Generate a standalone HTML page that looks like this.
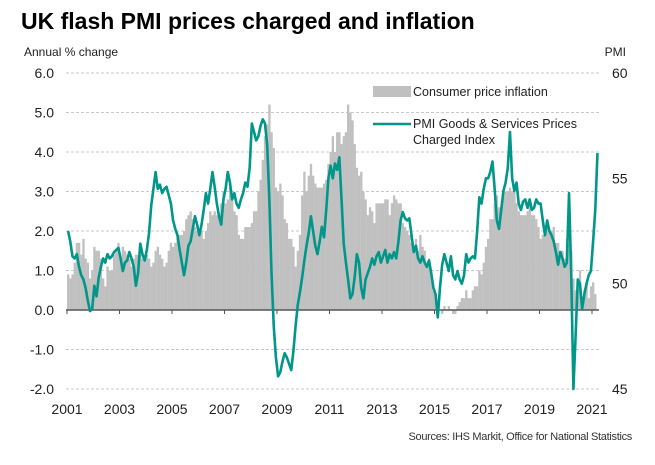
<!DOCTYPE html>
<html><head><meta charset="utf-8"><style>
body{margin:0;background:#fff;}
svg{display:block;font-family:"Liberation Sans",Arial,sans-serif;}
</style></head><body>
<svg id="chart" width="655" height="465" viewBox="0 0 655 465">
<text x="21" y="29" font-size="23" font-weight="bold" fill="#000">UK flash PMI prices charged and inflation</text>
<text x="24" y="56" font-size="12" fill="#222">Annual % change</text>
<text x="626" y="56" font-size="12" fill="#222" text-anchor="end">PMI</text>
<g id="grid"></g>
<g id="bars"></g>
<g id="axes"></g>
<path id="pmiLine" fill="none" stroke="#00968a" stroke-width="2.6" stroke-linejoin="round"></path>
<g>
<rect x="373" y="86" width="38" height="11" fill="#c0c0c0"></rect>
<text x="413" y="96" font-size="12.5" fill="#222">Consumer price inflation</text>
<line x1="373" y1="124" x2="411" y2="124" stroke="#00968a" stroke-width="2.6"></line>
<text x="413" y="128" font-size="12.5" fill="#222">PMI Goods &amp; Services Prices</text>
<text x="413" y="144" font-size="12.5" fill="#222">Charged Index</text>
</g>
<text x="632" y="440" font-size="11" fill="#333" text-anchor="end" letter-spacing="-0.3">Sources: IHS Markit, Office for National Statistics</text>
</svg>
<script>
const cpi = [
0.9,0.8,0.9,1.2,1.7,1.7,1.4,1.8,1.3,1.2,0.8,1.0,
1.6,1.5,1.5,1.3,0.8,0.6,1.1,1.0,1.0,1.4,1.5,1.7,
1.3,1.6,1.5,1.4,1.3,1.1,1.3,1.4,1.4,1.4,1.3,1.3,
1.4,1.3,1.1,1.2,1.5,1.6,1.4,1.3,1.1,1.2,1.5,1.7,
1.6,1.7,1.9,1.9,1.9,2.0,2.3,2.4,2.5,2.3,2.1,2.0,
1.9,2.0,1.8,2.0,2.2,2.5,2.4,2.5,2.4,2.4,2.7,3.0,
2.7,2.8,3.1,2.8,2.5,2.4,1.9,1.8,1.8,2.1,2.1,2.1,
2.2,2.5,2.5,3.0,3.3,3.8,4.4,4.7,5.2,4.5,4.1,3.1,
3.0,3.2,2.9,2.3,2.2,1.8,1.8,1.6,1.1,1.5,1.9,2.9,
3.5,3.0,3.4,3.7,3.4,3.2,3.1,3.1,3.1,3.2,3.3,3.7,
4.0,4.4,4.0,4.5,4.5,4.2,4.4,4.5,5.2,5.0,4.8,4.2,
3.6,3.4,3.5,3.0,2.8,2.4,2.6,2.5,2.2,2.7,2.7,2.7,
2.7,2.8,2.8,2.4,2.7,2.9,2.8,2.7,2.7,2.2,2.1,2.0,
1.9,1.7,1.6,1.8,1.5,1.9,1.6,1.5,1.2,1.3,1.0,0.5,
0.3,0.0,0.0,-0.1,0.1,0.0,0.1,0.0,-0.1,-0.1,0.1,0.2,
0.3,0.3,0.5,0.3,0.3,0.5,0.6,0.6,1.0,0.9,1.2,1.6,
1.8,2.3,2.3,2.7,2.9,2.6,2.6,2.9,3.0,3.0,3.1,3.0,
3.0,2.7,2.5,2.4,2.4,2.4,2.5,2.7,2.4,2.4,2.3,2.1,
1.8,1.9,1.9,2.1,2.0,2.0,2.1,1.7,1.7,1.5,1.5,1.3,
1.8,1.7,1.5,0.8,0.5,0.6,1.0,0.2,0.5,0.7,0.3,0.6,
0.7,0.4];
const pmi = [
52.5,52.0,51.3,51.2,51.4,50.8,50.4,50.2,49.8,49.2,48.7,48.8,
49.9,49.4,50.3,50.8,51.2,51.0,51.4,51.2,51.3,51.5,51.6,51.7,
51.2,50.6,51.0,51.1,51.5,51.2,50.8,49.9,50.5,51.9,51.4,51.1,
51.6,52.4,53.7,54.5,55.3,54.5,54.7,54.3,54.5,54.6,54.2,53.8,
53.0,52.6,52.3,51.6,51.0,50.4,51.0,51.8,52.0,52.6,53.2,52.8,
52.3,52.8,53.5,54.3,53.8,54.5,55.3,54.6,53.8,53.2,52.8,54.0,
54.5,55.3,54.8,54.0,54.3,53.8,53.6,54.0,54.3,54.8,54.6,55.5,
57.6,57.2,56.8,57.0,57.5,57.8,57.6,56.6,54.0,50.5,48.0,46.5,
45.6,45.8,46.3,46.7,46.5,46.2,45.9,46.8,48.0,49.0,49.6,50.3,
51.1,51.8,52.4,53.2,52.5,51.8,51.4,52.0,52.7,52.2,53.5,55.0,
55.6,55.0,55.7,55.4,56.0,54.0,51.9,51.0,50.2,49.3,49.5,50.3,
51.4,51.0,49.8,49.3,50.2,50.5,50.8,51.2,50.9,51.3,51.5,51.0,
51.3,51.6,51.0,51.4,51.2,51.5,51.2,52.0,53.0,53.4,53.1,53.0,
53.1,52.3,51.5,51.8,51.2,51.0,51.3,51.0,50.8,51.1,50.5,49.8,
49.5,48.4,49.8,50.9,51.4,51.0,50.6,51.3,50.4,50.2,50.6,50.2,
50.0,50.4,51.4,51.0,51.2,51.3,51.2,52.5,54.1,53.8,54.5,55.0,
55.0,55.3,55.8,54.5,53.0,52.6,53.5,54.4,54.8,55.5,57.2,55.0,
54.4,54.8,53.8,53.5,53.9,54.0,53.6,54.0,53.5,53.6,54.0,53.8,
53.8,53.0,52.3,53.0,52.5,52.3,52.0,51.5,50.9,51.5,51.2,50.8,
51.0,54.3,50.5,45.0,47.5,50.2,50.0,48.8,49.5,50.0,50.4,50.6,
52.0,53.5,56.2];
const leftTicks = ["6.0","5.0","4.0","3.0","2.0","1.0","0.0","-1.0","-2.0"];
const rightTicks = ["60","55","50","45"];
const yearTicks = ["2001","2003","2005","2007","2009","2011","2013","2015","2017","2019","2021"];

const NS="http://www.w3.org/2000/svg";
const X0=67, PX_YEAR=26.25, Y_TOP=73, Y_BOT=389;
const xM = i => X0 + i*PX_YEAR/12;
const xY = y => X0 + (y-2001)*PX_YEAR;
const yL = v => Y_TOP + (6-v)*(Y_BOT-Y_TOP)/8;
const yR = v => Y_TOP + (60-v)*(Y_BOT-Y_TOP)/15;
function mk(t,a,p){const e=document.createElementNS(NS,t);for(const k in a)e.setAttribute(k,a[k]);p.appendChild(e);return e;}
const grid=document.getElementById('grid'), bars=document.getElementById('bars'), axes=document.getElementById('axes'), svg=document.getElementById('chart');

leftTicks.forEach(t=>{
  const v=parseFloat(t), y=yL(v);
  if(v!==0){const g=mk('line',{x1:66,x2:599,y1:y,y2:y,stroke:'#c8c8c8','stroke-width':1,'stroke-dasharray':'3,2'},grid);
  
  }
  const tx=mk('text',{x:54,y:y+5,'font-size':14,'text-anchor':'end',fill:'#222'},axes);tx.textContent=t;
  
  
});
rightTicks.forEach(t=>{
  const y=yR(parseFloat(t));
  const tx=mk('text',{x:612,y:y+5,'font-size':14,fill:'#222'},axes);tx.textContent=t;
  
  
});
const bw=PX_YEAR/12;
cpi.forEach((v,i)=>{
  const y0=yL(0), y=yL(v);
  const r=mk('rect',{x:xM(i),y:Math.min(y,y0),width:bw+0.15,height:Math.abs(y0-y),fill:'#c0c0c0'},bars);
  
  
});
const ax=mk('line',{x1:66,x2:599,y1:yL(0),y2:yL(0),stroke:'#555','stroke-width':1.5},axes);


yearTicks.forEach(t=>{
  const x=xY(parseInt(t));
  const tk=mk('line',{x1:x,x2:x,y1:yL(0),y2:yL(0)+4,stroke:'#555','stroke-width':1},axes);
  
  
  const tx=mk('text',{x:x,y:414,'font-size':14,'text-anchor':'middle',fill:'#222'},axes);tx.textContent=t;
  
  
});
let d='';
pmi.forEach((v,i)=>{d+=(i?'L':'M')+(xM(i)+bw/2).toFixed(2)+','+yR(v).toFixed(2);});
document.getElementById('pmiLine').setAttribute('d',d);
</script>
</body></html>
